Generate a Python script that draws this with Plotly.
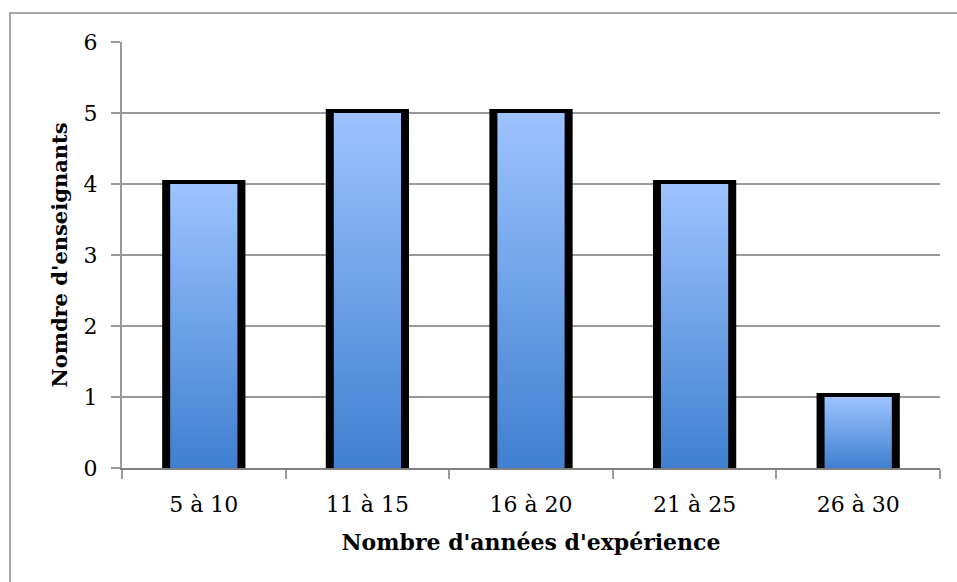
import plotly.graph_objects as go

# Teachers grouped by years of experience
categories = ["5 à 10", "11 à 15", "16 à 20", "21 à 25", "26 à 30"]
teachers = [4, 5, 5, 4, 1]
y_ticks = [0, 1, 2, 3, 4, 5, 6]

FONT = "DejaVu Serif"
BAR_WIDTH = 0.46          # bar width in category units
FRAME_INSET = 0.0245      # half the black frame, in category units
TOP_COLOR = "#9DC3FF"
BOTTOM_COLOR = "#3F80D0"
GRID = "#9a9a9a"

positions = list(range(len(categories)))

fig = go.Figure()

# black framed bars
fig.add_trace(go.Bar(
    x=positions, y=teachers, width=BAR_WIDTH,
    marker=dict(color="black", line=dict(color="black", width=8)),
    hoverinfo="skip", showlegend=False,
))

# gradient fill inside each frame
half = BAR_WIDTH / 2 - FRAME_INSET
for pos, val in zip(positions, teachers):
    fig.add_trace(go.Scatter(
        x=[pos - half, pos + half, pos + half, pos - half, pos - half],
        y=[0, 0, val, val, 0],
        mode="lines", line=dict(width=0, color="rgba(0,0,0,0)"),
        fill="toself",
        fillgradient=dict(type="vertical",
                          colorscale=[[0, BOTTOM_COLOR], [1, TOP_COLOR]]),
        hoverinfo="skip", showlegend=False,
    ))

fig.update_layout(
    width=957, height=582,
    margin=dict(l=122, r=17, t=42, b=114),
    paper_bgcolor="white", plot_bgcolor="white",
    font=dict(family=FONT, size=22, color="black"),
    showlegend=False,
    xaxis=dict(
        range=[-0.5, len(categories) - 0.5],
        tickmode="array", tickvals=positions, ticktext=categories,
        ticks="", showgrid=False, zeroline=False,
        showline=True, linecolor="#808080", linewidth=2,
        minor=dict(tick0=-0.5, dtick=1, ticks="outside", ticklen=9,
                   tickcolor=GRID, tickwidth=2, showgrid=False),
        ticklabelstandoff=16,
        tickfont=dict(family=FONT, size=22),
        title=dict(text="<b>Nombre d'années d'expérience</b>",
                   font=dict(family=FONT, size=22), standoff=18),
    ),
    yaxis=dict(
        range=[0, 6], tickmode="array", tickvals=y_ticks,
        ticks="outside", ticklen=9, tickcolor=GRID, tickwidth=2,
        showgrid=True, gridcolor=GRID, gridwidth=2,
        zeroline=False, showline=True, linecolor=GRID, linewidth=2,
        ticklabelstandoff=9,
        tickfont=dict(family=FONT, size=22),
        title=dict(text="<b>Nomdre d'enseignants</b>",
                   font=dict(family=FONT, size=21), standoff=10),
    ),
    shapes=[dict(type="rect", xref="paper", yref="paper",
                 x0=-112 / 818, x1=1.1, y0=-0.4, y1=455 / 426,
                 line=dict(color="#8a8a8a", width=1.5), layer="below")],
)

fig.write_html("out.html")
